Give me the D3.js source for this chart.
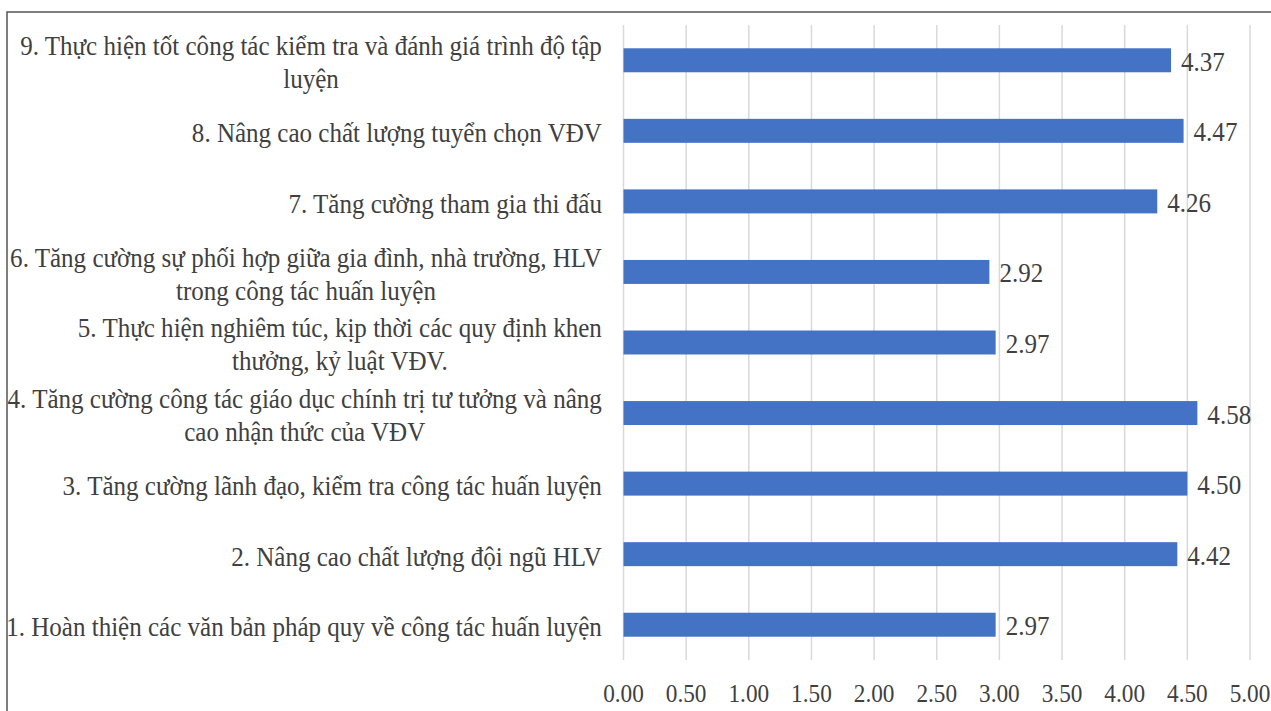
<!DOCTYPE html>
<html>
<head>
<meta charset="utf-8">
<script src="https://cdn.jsdelivr.net/npm/d3@7"></script>
<style>
  html, body { margin: 0; padding: 0; background: #fff; }
  svg { display: block; }
  text { font-family: "Liberation Serif", "Times New Roman", serif; fill: #404040; }
</style>
</head>
<body>
<svg id="chart" width="1271" height="711"></svg>
<script>
// categories listed top to bottom, each split into its wrapped lines
const categories = [
  ["9. Thực hiện tốt công tác kiểm tra và đánh giá trình độ tập", "luyện"],
  ["8. Nâng cao chất lượng tuyển chọn VĐV"],
  ["7. Tăng cường tham gia thi đấu"],
  ["6. Tăng cường sự phối hợp giữa gia đình, nhà trường, HLV", "trong công tác huấn luyện"],
  ["5. Thực hiện nghiêm túc, kịp thời các quy định khen", "thưởng, kỷ luật VĐV."],
  ["4. Tăng cường công tác giáo dục chính trị tư tưởng và nâng", "cao nhận thức của VĐV"],
  ["3. Tăng cường lãnh đạo, kiểm tra công tác huấn luyện"],
  ["2. Nâng cao chất lượng đội ngũ HLV"],
  ["1. Hoàn thiện các văn bản pháp quy về công tác huấn luyện"]
];
const values = [4.37, 4.47, 4.26, 2.92, 2.97, 4.58, 4.50, 4.42, 2.97];
const tickValues = [0, 0.5, 1, 1.5, 2, 2.5, 3, 3.5, 4, 4.5, 5];

const svg = d3.select("#chart");
const margin = { top: 25, left: 623.5, right: 21, bottom: 51 };
const width = 1271, height = 711;

// frame around the chart (only top and left edges are visible)
svg.append("path")
  .attr("d", `M7,${height} V12 H${width}`)
  .attr("fill", "none")
  .attr("stroke", "#555")
  .attr("stroke-width", 1.5);

const xScale = d3.scaleLinear()
  .domain([0, 5])
  .range([margin.left, width - margin.right]);

const yScale = d3.scaleBand()
  .domain(d3.range(categories.length))
  .range([margin.top, height - margin.bottom])
  .paddingInner(0.66)
  .paddingOuter(0.33);

// horizontal squeeze of the text seen in the picture
const probe = svg.append("text")
  .attr("font-size", 28)
  .text(categories[0][0]);
const sx = 582 / probe.node().getComputedTextLength();
probe.remove();

// gridlines
svg.append("g")
  .selectAll("line")
  .data(tickValues)
  .join("line")
  .attr("x1", (d) => xScale(d))
  .attr("x2", (d) => xScale(d))
  .attr("y1", margin.top)
  .attr("y2", height - margin.bottom)
  .attr("stroke", "#d9d9d9")
  .attr("stroke-width", 1.5);

// x tick labels
svg.append("g")
  .selectAll("text")
  .data(tickValues)
  .join("text")
  .attr("transform", (d) => `translate(${xScale(d)},${height - 18}) scale(${sx},1)`)
  .attr("text-anchor", "middle")
  .attr("dominant-baseline", "central")
  .attr("font-size", 26)
  .text((d) => d.toFixed(2));

// bars
svg.append("g")
  .selectAll("rect")
  .data(values)
  .join("rect")
  .attr("x", xScale(0))
  .attr("y", (d, i) => yScale(i))
  .attr("width", (d) => xScale(d) - xScale(0))
  .attr("height", yScale.bandwidth())
  .attr("fill", "#4472c4");

// value labels
svg.append("g")
  .selectAll("text")
  .data(values)
  .join("text")
  .attr("transform", (d, i) =>
    `translate(${xScale(d) + 10},${yScale(i) + yScale.bandwidth() / 2 + 1}) scale(${sx},1)`)
  .attr("dominant-baseline", "central")
  .attr("font-size", 28)
  .text((d) => d.toFixed(2));

// category labels: wrapped lines centred inside a right-aligned block
const labelRight = 602;
const lineGap = 33;
const labelG = svg.append("g");
categories.forEach((lines, i) => {
  const cy = yScale(i) + yScale.bandwidth() / 2 + 2;
  const g = labelG.append("g");
  const texts = lines.map((ln, j) =>
    g.append("text")
      .attr("font-size", 28)
      .attr("text-anchor", "middle")
      .attr("dominant-baseline", "central")
      .text(ln));
  const blockW = d3.max(texts, (t) => t.node().getComputedTextLength()) * sx;
  const cx = labelRight - blockW / 2;
  texts.forEach((t, j) => {
    const y = cy + (j - (lines.length - 1) / 2) * lineGap;
    t.attr("transform", `translate(${cx},${y}) scale(${sx},1)`);
  });
});
</script>
</body>
</html>
